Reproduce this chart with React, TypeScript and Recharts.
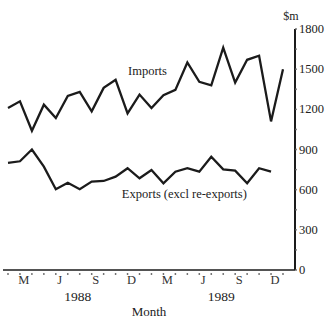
import {
  LineChart,
  Line,
  XAxis,
  YAxis,
  ReferenceDot,
  Label,
} from 'recharts';

const months = [
  'Jan 1988', 'Feb 1988', 'Mar 1988', 'Apr 1988', 'May 1988', 'Jun 1988',
  'Jul 1988', 'Aug 1988', 'Sep 1988', 'Oct 1988', 'Nov 1988', 'Dec 1988',
  'Jan 1989', 'Feb 1989', 'Mar 1989', 'Apr 1989', 'May 1989', 'Jun 1989',
  'Jul 1989', 'Aug 1989', 'Sep 1989', 'Oct 1989', 'Nov 1989', 'Dec 1989',
];

// $m per month
const imports = [
  1210, 1260, 1040, 1235, 1135, 1300, 1330, 1185, 1360, 1420, 1170, 1310,
  1210, 1305, 1345, 1550, 1405, 1380, 1660, 1400, 1570, 1600, 1110, 1500,
];

const exportsExcl = [
  800, 812, 900, 772, 603, 652, 603, 660, 665, 697, 760, 685,
  747, 648, 734, 760, 734, 846, 752, 742, 648, 760, 734, null,
];

// letters shown under the quarter months
const monthLetters: Record<string, string> = { Mar: 'M', Jun: 'J', Sep: 'S', Dec: 'D' };
const yearLabels: Record<string, string> = { 'Jul 1988': '1988', 'Jul 1989': '1989' };

const yTicks = [0, 150, 300, 450, 600, 750, 900, 1050, 1200, 1350, 1500, 1650, 1800];

const data = months.map((m, i) => ({
  month: m,
  imports: imports[i],
  exports: exportsExcl[i],
}));

const FONT = '"Liberation Serif", "DejaVu Serif", serif';
const INK = '#1b1b1b';

function MonthTick({ x, y, payload }: any) {
  const value: string = payload.value;
  const letter = monthLetters[value.slice(0, 3)];
  const year = yearLabels[value];
  return (
    <g>
      <circle cx={x} cy={y + 4} r={0.9} fill="#666" />
      {letter && (
        <text x={x - 8} y={y + 14} textAnchor="middle" fontFamily={FONT} fontSize={12.5} fill="#333">
          {letter}
        </text>
      )}
      {year && (
        <text x={x - 2} y={y + 31} textAnchor="middle" fontFamily={FONT} fontSize={13.5} fill="#222">
          {year}
        </text>
      )}
    </g>
  );
}

function ValueTick({ x, y, payload }: any) {
  const v: number = payload.value;
  return (
    <g>
      <circle cx={x + 1} cy={y} r={0.9} fill="#666" />
      {v % 300 === 0 && (
        <text x={x + 4} y={y + 4} textAnchor="start" fontFamily={FONT} fontSize={12.5} fill="#222">
          {v}
        </text>
      )}
    </g>
  );
}

export default function App() {
  return (
    <div style={{ position: 'absolute', left: 0, top: 0, width: 325, height: 318, background: '#fff' }}>
      <LineChart width={325} height={318} data={data} margin={{ top: 29, right: 0, bottom: 0, left: 3 }}>
        <XAxis
          dataKey="month"
          height={48}
          interval={0}
          padding={{ left: 5, right: 12 }}
          tickSize={0}
          tickMargin={0}
          tickLine={false}
          tick={<MonthTick />}
          axisLine={{ stroke: INK, strokeWidth: 1.6 }}
        >
          <Label value="Month" position="insideBottom" offset={2} fontFamily={FONT} fontSize={13} fill="#222" />
        </XAxis>
        <YAxis
          orientation="right"
          width={30}
          domain={[0, 1800]}
          ticks={yTicks}
          interval={0}
          tickSize={0}
          tickMargin={0}
          tickLine={false}
          tick={<ValueTick />}
          axisLine={{ stroke: INK, strokeWidth: 2 }}
        >
          <Label value="$m" position="top" offset={9} dx={-19} fontFamily={FONT} fontSize={12} fill="#222" />
        </YAxis>
        <Line
          type="linear"
          dataKey="imports"
          stroke={INK}
          strokeWidth={2.3}
          dot={false}
          isAnimationActive={false}
        />
        <Line
          type="linear"
          dataKey="exports"
          stroke={INK}
          strokeWidth={2.3}
          dot={false}
          connectNulls={false}
          isAnimationActive={false}
        />
        <ReferenceDot
          x="Jan 1989"
          y={1490}
          r={0}
          stroke="none"
          label={{ value: 'Imports', position: 'center', dx: -4, fontFamily: FONT, fontSize: 12.5, fill: '#222' }}
        />
        <ReferenceDot
          x="Apr 1989"
          y={570}
          r={0}
          stroke="none"
          label={{ value: 'Exports (excl re-exports)', position: 'center', dx: -3, fontFamily: FONT, fontSize: 12.5, fill: '#222' }}
        />
      </LineChart>
    </div>
  );
}
